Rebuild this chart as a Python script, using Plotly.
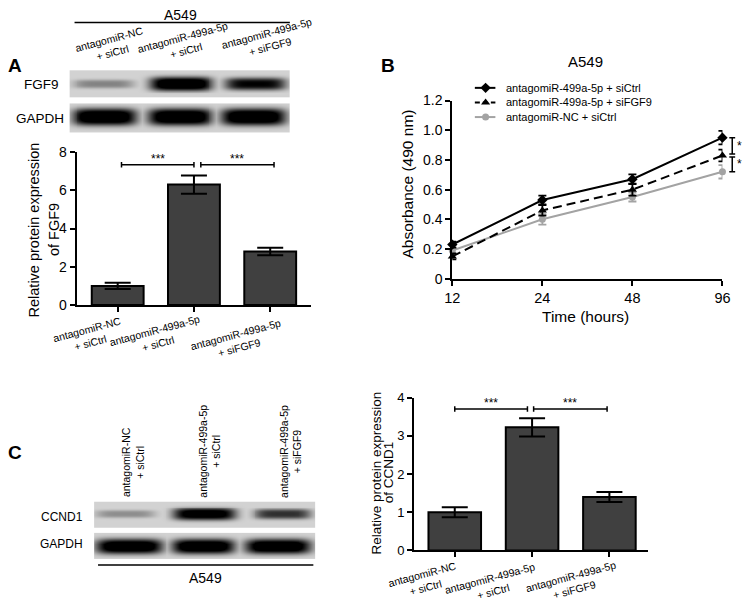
import numpy as np
import plotly.graph_objects as go

W, H = 751, 612
FONT = "Arial, Liberation Sans, sans-serif"

# ---- data -------------------------------------------------------------
LANE_LABELS = ["antagomiR-NC<br>+ siCtrl",
               "antagomiR-499a-5p<br>+ siCtrl",
               "antagomiR-499a-5p<br>+ siFGF9"]
GROUPS = ["NC+siCtrl", "499a+siCtrl", "499a+siFGF9"]

# panel A quantification
FGF9_REL = [1.0, 6.3, 2.8]
FGF9_ERR = [0.16, 0.48, 0.2]
FGF9_SIG = ["***", "***"]

# panel C quantification
CCND1_REL = [1.0, 3.22, 1.4]
CCND1_ERR = [0.13, 0.24, 0.13]
CCND1_SIG = ["***", "***"]

# western blot band intensities (0 = none, 1 = saturated)
FGF9_BAND = [0.3, 1.0, 0.8]
GAPDH_A_BAND = [1.0, 1.0, 1.0]
CCND1_BAND = [0.26, 0.92, 0.62]
GAPDH_C_BAND = [1.0, 1.0, 1.0]

# panel B MTT
TIME = ["12", "24", "48", "96"]
SERIES = ["antagomiR-499a-5p + siCtrl", "antagomiR-499a-5p + siFGF9", "antagomiR-NC + siCtrl"]
ABS_CTRL = [0.23, 0.53, 0.67, 0.95]
ABS_CTRL_ERR = [0.02, 0.03, 0.033, 0.045]
ABS_SIFGF9 = [0.15, 0.46, 0.60, 0.83]
ABS_SIFGF9_ERR = [0.02, 0.035, 0.04, 0.04]
ABS_NC = [0.19, 0.40, 0.55, 0.72]
ABS_NC_ERR = [0.02, 0.035, 0.03, 0.045]
B_SIG = [(0.95, 0.84, "*"), (0.82, 0.72, "*")]


def dom_x(a, b):
    return [a / W, b / W]


def dom_y(top, bottom):
    return [1 - bottom / H, 1 - top / H]


def blot(x0, x1, y0, y1, lane_x, lane_hw, yc, th, intensity):
    # one blot strip as a heatmap: band darkness scaled by the lane intensity
    xs = np.arange(x0, x1) + 0.5
    ys = np.arange(y0, y1) + 0.5
    X, Y = np.meshgrid(xs, ys)
    z = np.zeros_like(X)
    for cx, hw, inten in zip(lane_x, lane_hw, intensity):
        hh = th * (0.45 + 0.55 * inten)
        d = 1.25 * inten * np.exp(-(np.abs(X - cx) / hw) ** 5) * np.exp(-(np.abs(Y - yc) / hh) ** 3)
        z = np.maximum(z, np.minimum(d, 1))
    return go.Heatmap(x=xs, y=ys, z=z, zmin=0, zmax=1, showscale=False,
                      colorscale=[[0, "#d2d2d2"], [1, "#000000"]],
                      xaxis="x4", yaxis="y4", hoverinfo="skip")


fig = go.Figure()

# ---- blots ------------------------------------------------------------
fig.add_trace(blot(63, 288, 64, 92, [98, 177, 253], [31, 32, 31], 78, 7, FGF9_BAND))
fig.add_trace(blot(63, 288, 98, 128, [99, 176, 251], [33, 33, 33], 112, 8.5, GAPDH_A_BAND))
fig.add_trace(blot(88, 314, 507, 534, [120, 201, 281], [30, 32, 29], 520, 6.5, CCND1_BAND))
fig.add_trace(blot(88, 314, 539, 566, [124, 200, 276], [34, 32, 34], 553, 8, GAPDH_C_BAND))

# ---- bar charts -------------------------------------------------------
bar_style = dict(marker=dict(color="#404040", line=dict(color="black", width=2)), width=0.68,
                 hoverinfo="skip")
fig.add_trace(go.Bar(x=GROUPS, y=FGF9_REL, xaxis="x", yaxis="y",
                     error_y=dict(type="data", array=FGF9_ERR, color="black", thickness=2, width=13),
                     **bar_style))
fig.add_trace(go.Bar(x=GROUPS, y=CCND1_REL, xaxis="x3", yaxis="y3",
                     error_y=dict(type="data", array=CCND1_ERR, color="black", thickness=2, width=13),
                     **bar_style))

# ---- line chart -------------------------------------------------------
line_specs = [
    (ABS_NC, ABS_NC_ERR, "#a3a3a3", "solid", "circle", 7),
    (ABS_SIFGF9, ABS_SIFGF9_ERR, "black", "9px,5px", "triangle-up", 8),
    (ABS_CTRL, ABS_CTRL_ERR, "black", "solid", "diamond", 8),
]
for vals, errs, col, dash, sym, size in line_specs:
    fig.add_trace(go.Scatter(x=TIME, y=vals, xaxis="x2", yaxis="y2", mode="lines+markers",
                             line=dict(color=col, width=2, dash=dash),
                             marker=dict(symbol=sym, size=size, color=col),
                             error_y=dict(type="data", array=errs, color=col, thickness=1.8, width=4),
                             cliponaxis=False, hoverinfo="skip"))

# legend samples for panel B (drawn on the pixel overlay axis)
legend_rows = [82, 97, 112]
legend_specs = [("black", "solid", "diamond", 8), ("black", "5px,3px", "triangle-up", 8),
                ("#a3a3a3", "solid", "circle", 7)]
for yy, (col, dash, sym, size) in zip(legend_rows, legend_specs):
    fig.add_trace(go.Scatter(x=[477, 498], y=[yy, yy], xaxis="x4", yaxis="y4", mode="lines",
                             line=dict(color=col, width=2, dash=dash), hoverinfo="skip"))
    fig.add_trace(go.Scatter(x=[488], y=[yy], xaxis="x4", yaxis="y4", mode="markers",
                             marker=dict(symbol=sym, size=size, color=col), hoverinfo="skip"))

# ---- layout -----------------------------------------------------------
ax = dict(showgrid=False, zeroline=False, showline=True, linecolor="black", linewidth=2,
          ticks="outside", tickcolor="black", tickwidth=1.5, ticklen=5,
          tickfont=dict(size=14, color="black", family=FONT), fixedrange=True)

fig.update_layout(
    width=W, height=H, autosize=False, margin=dict(l=0, r=0, t=0, b=0),
    paper_bgcolor="white", plot_bgcolor="rgba(0,0,0,0)", showlegend=False,
    font=dict(family=FONT, color="black"),
    xaxis=dict(ax, domain=dom_x(70, 310), range=[-0.54, 2.54], showticklabels=False, anchor="y"),
    yaxis=dict(ax, domain=dom_y(148, 305), range=[0, 8], tickvals=[0, 2, 4, 6, 8], anchor="x"),
    xaxis2=dict(ax, domain=dom_x(454, 730), range=[0, 3], anchor="y2",
                tickfont=dict(size=14.5, color="black", family=FONT)),
    yaxis2=dict(ax, domain=dom_y(95, 278), range=[0, 1.2], anchor="x2",
                tickvals=[0, 0.2, 0.4, 0.6, 0.8, 1.0, 1.2],
                ticktext=["0", "0.2", "0.4", "0.6", "0.8", "1.0", "1.2"]),
    xaxis3=dict(ax, domain=dom_x(415, 654), range=[-0.525, 2.5], showticklabels=False, anchor="y3"),
    yaxis3=dict(ax, domain=dom_y(400, 557), range=[0, 4], tickvals=[0, 1, 2, 3, 4], anchor="x3",
                tickfont=dict(size=13, color="black", family=FONT)),
    xaxis4=dict(domain=[0, 1], range=[0, W], visible=False, fixedrange=True, anchor="y4"),
    yaxis4=dict(domain=[0, 1], range=[H, 0], visible=False, fixedrange=True, anchor="x4"),
)

annotations = []
shapes = []


def txt(x, y, text, size, angle=0, bold=False, xanchor="center", yanchor="middle"):
    annotations.append(dict(x=x, y=y, xref="x4", yref="y4", text=f"<b>{text}</b>" if bold else text,
                            showarrow=False, textangle=angle, xanchor=xanchor, yanchor=yanchor,
                            font=dict(size=size, color="black", family=FONT)))


def hline(x0, x1, y, width=1.5):
    shapes.append(dict(type="line", xref="x4", yref="y4", x0=x0, x1=x1, y0=y, y1=y,
                       line=dict(color="black", width=width)))


# panel letters
txt(7, 59, "A", 19, bold=True)
txt(388, 59, "B", 19, bold=True)
txt(7, 456, "C", 19, bold=True)

# panel A blot labels
txt(176, 7, "A549", 14)
hline(68, 288, 15)
for (cx, cy), lab in zip([(105, 39), (180, 37), (266, 33)], LANE_LABELS):
    txt(cx, cy, lab, 10.5, angle=-15)
txt(34, 79, "FGF9", 13.5)
txt(33, 113, "GAPDH", 13.5)

# panel A axis labels
txt(27, 228, "Relative protein expression", 14.5, angle=-90)
txt(47, 228, "of FGF9", 14.5, angle=-90)
for (cx, cy), lab in zip([(83, 337), (152, 338), (235, 342)], LANE_LABELS):
    txt(cx, cy, lab, 10.5, angle=-15)

# panel C blot labels
for (cx, cy), lab in zip([(128, 466), (206, 455), (289, 455)], LANE_LABELS):
    txt(cx, cy, lab, 10.5, angle=-90)
txt(55, 523, "CCND1", 12)
txt(55, 550, "GAPDH", 12)
hline(92, 312, 572)
txt(202, 585, "A549", 14)

# panel C axis labels
txt(377, 477, "Relative protein expression", 13.5, angle=-90)
txt(389, 477, "of CCND1", 13.5, angle=-90)
for (cx, cy), lab in zip([(425, 588), (494, 592), (577, 590)], LANE_LABELS):
    txt(cx, cy, lab, 10.5, angle=-15)

# panel B texts
txt(590, 55, "A549", 15)
for yy, name in zip(legend_rows, SERIES):
    txt(507, yy, name, 11, xanchor="left")
txt(408, 181, "Absorbance (490 nm)", 15.5, angle=-90)
txt(590, 317, "Time (hours)", 15.5)


# significance brackets on bar charts
def brackets(xref, yref, spans, level, serif, labels, star_shift):
    for (a, b), lab in zip(spans, labels):
        shapes.append(dict(type="line", xref=xref, yref=yref, x0=a, x1=b, y0=level, y1=level,
                           line=dict(color="black", width=1.5)))
        for xe in (a, b):
            shapes.append(dict(type="line", xref=xref, yref=yref, x0=xe, x1=xe,
                               y0=level - serif, y1=level + serif, line=dict(color="black", width=1.5)))
        annotations.append(dict(x=(a + b) / 2, y=level, xref=xref, yref=yref, text=lab,
                                showarrow=False, yanchor="bottom", yshift=star_shift,
                                font=dict(size=12, color="black", family=FONT)))


brackets("x", "y", [(0.05, 1.0), (1.09, 2.05)], 7.34, 0.14, FGF9_SIG, -3)
brackets("x3", "y3", [(0.0, 0.94), (1.02, 1.97)], 3.70, 0.07, CCND1_SIG, -3)

# panel B significance
for top, bot, lab in B_SIG:
    shapes.append(dict(type="line", xref="paper", yref="y2", x0=740 / W, x1=740 / W, y0=bot, y1=top,
                       line=dict(color="black", width=1.5)))
    for yy in (top, bot):
        shapes.append(dict(type="line", xref="paper", yref="y2", x0=737 / W, x1=743 / W, y0=yy, y1=yy,
                           line=dict(color="black", width=1.5)))
    annotations.append(dict(x=747.5 / W, y=(top + bot) / 2, xref="paper", yref="y2", text=lab,
                            showarrow=False, xanchor="center", yanchor="middle",
                            font=dict(size=12, color="black", family=FONT)))

fig.update_layout(annotations=annotations, shapes=shapes)

# drop the default page margin and scrollbars so the figure fills the window exactly
page_fix = ("for (const el of [document.documentElement, document.body]) "
            "{ el.style.margin = '0px'; el.style.padding = '0px'; el.style.overflow = 'hidden'; }")
fig.write_html("out.html", config={"displayModeBar": False}, post_script=page_fix)
